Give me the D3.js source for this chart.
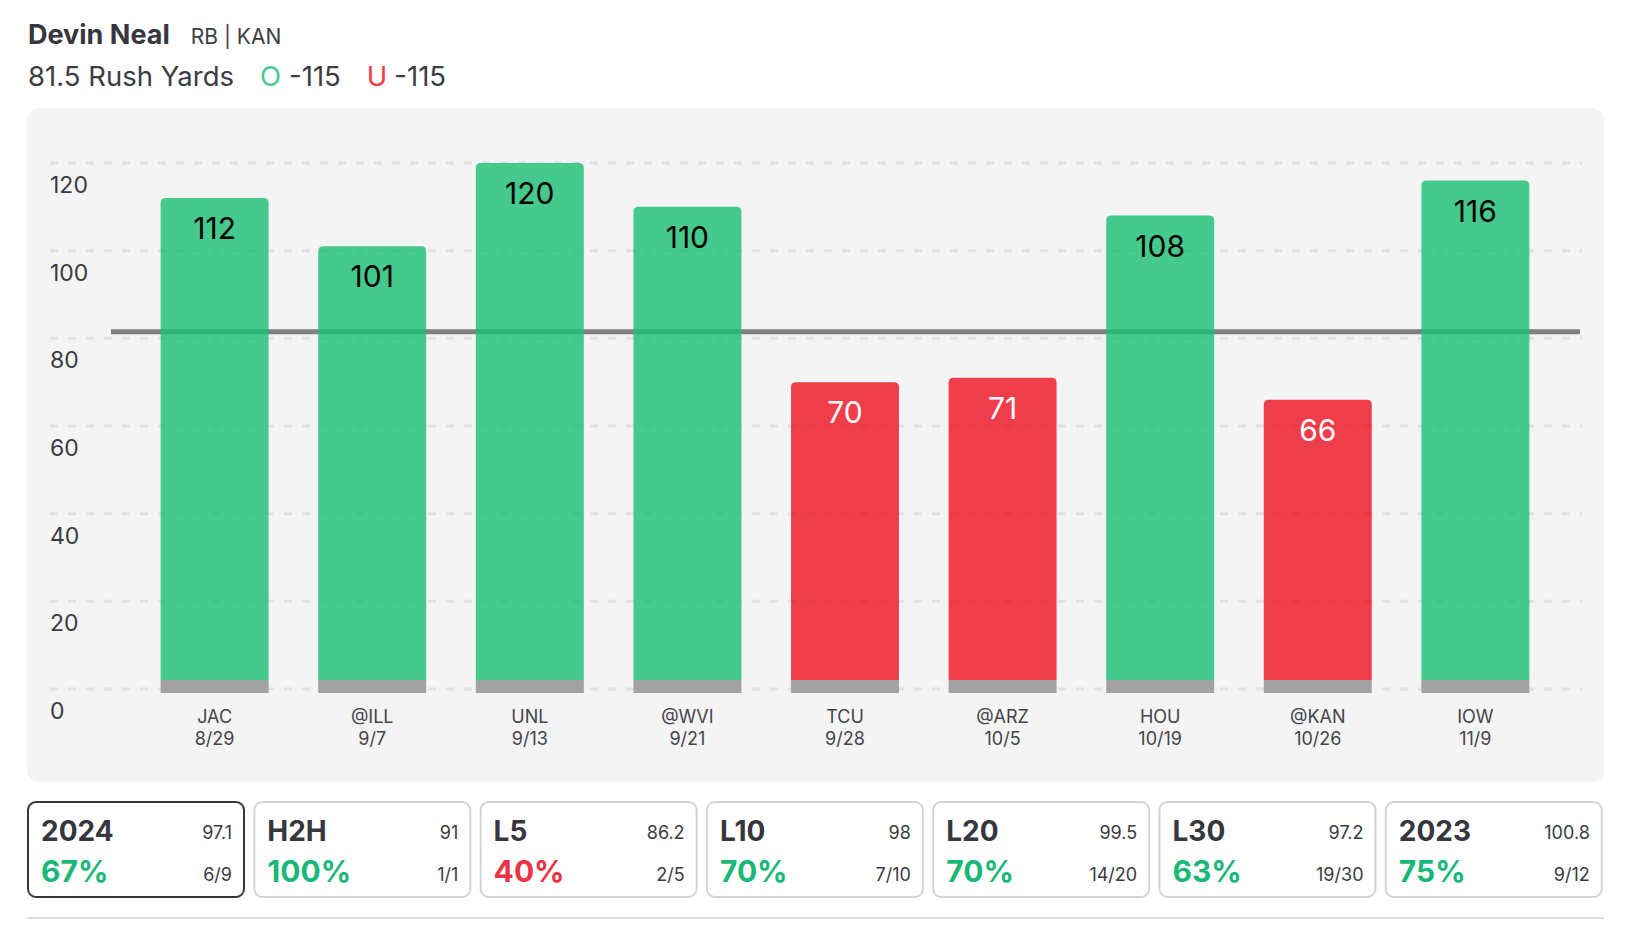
<!DOCTYPE html>
<html>
<head>
<script src="https://d3js.org/d3.v7.min.js"></script>
<style>
  body, html { margin: 0; background: #fff; }
  text { font-family: 'Inter', 'Noto Sans', sans-serif; }
</style>
</head>
<body>
<div id="chart"></div>
<script>
var opponents = ["JAC", "@ILL", "UNL", "@WVI", "TCU", "@ARZ", "HOU", "@KAN", "IOW"];
var dates = ["8/29", "9/7", "9/13", "9/21", "9/28", "10/5", "10/19", "10/26", "11/9"];
var yards = [112, 101, 120, 110, 70, 71, 108, 66, 116];
var propLine = 81.5;
var yTicks = [0, 20, 40, 60, 80, 100, 120];

var cardLabels = ["2024", "H2H", "L5", "L10", "L20", "L30", "2023"];
var cardAvgs = ["97.1", "91", "86.2", "98", "99.5", "97.2", "100.8"];
var cardPcts = [67, 100, 40, 70, 70, 63, 75];
var cardHits = ["6/9", "1/1", "2/5", "7/10", "14/20", "19/30", "9/12"];

var green = "#1cbf74", red = "#ee1424";
var W = 1628, H = 940;

var svg = d3.select("#chart").append("svg")
  .attr("width", W).attr("height", H);

// header
var t1 = svg.append("text").attr("x", 28).attr("y", 44).attr("fill", "#36363e");
t1.append("tspan").attr("font-size", 27).attr("font-weight", 700).text("Devin Neal");
t1.append("tspan").attr("dx", 21).attr("font-size", 21).attr("fill", "#3c3c44").text("RB | KAN");

var t2 = svg.append("text").attr("x", 28).attr("y", 86).attr("font-size", 27.5).attr("fill", "#3c3c44");
t2.append("tspan").text("81.5 Rush Yards");
t2.append("tspan").attr("dx", 26).attr("fill", "#45c98c").text("O");
t2.append("tspan").attr("dx", 8).text("-115");
t2.append("tspan").attr("dx", 26).attr("fill", "#ef3b48").text("U");
t2.append("tspan").attr("dx", 7).text("-115");

// panel
svg.append("rect")
  .attr("x", 27).attr("y", 108).attr("width", 1577).attr("height", 674)
  .attr("rx", 12).attr("fill", "#f4f4f4");

var x = d3.scaleBand().domain(opponents).range([111, 1579]).padding(0.315);
var y = d3.scaleLinear().domain([0, 120]).range([689, 163]);

// grid
svg.append("g").selectAll("line").data(yTicks).enter().append("line")
  .attr("x1", 50).attr("x2", 1582)
  .attr("y1", d => y(d)).attr("y2", d => y(d))
  .attr("stroke", "#e0e0e0").attr("stroke-width", 3)
  .attr("stroke-dasharray", "8,10");

svg.append("g").selectAll("text").data(yTicks).enter().append("text")
  .attr("x", 50).attr("y", d => y(d) + 30)
  .attr("font-size", 23).attr("fill", "#3a3a42")
  .text(d => d);

// prop line
svg.append("line")
  .attr("x1", 111).attr("x2", 1580)
  .attr("y1", y(propLine)).attr("y2", y(propLine))
  .attr("stroke", "#808080").attr("stroke-width", 5);

// bars
function barPath(x0, w, top, bottom, r) {
  return "M" + x0 + "," + bottom + "V" + (top + r) +
    "Q" + x0 + "," + top + " " + (x0 + r) + "," + top +
    "H" + (x0 + w - r) +
    "Q" + (x0 + w) + "," + top + " " + (x0 + w) + "," + (top + r) +
    "V" + bottom + "Z";
}

var bars = svg.append("g").selectAll("g").data(yards).enter().append("g");

bars.append("path")
  .attr("d", (d, i) => barPath(x(opponents[i]), x.bandwidth(), y(d), y(0) - 9, 5))
  .attr("fill", d => d > propLine ? green : red)
  .attr("fill-opacity", 0.81);

bars.append("rect")
  .attr("x", (d, i) => x(opponents[i]))
  .attr("y", y(0) - 9)
  .attr("width", x.bandwidth())
  .attr("height", 13)
  .attr("fill", "#a2a2a2");

bars.append("text")
  .attr("x", (d, i) => x(opponents[i]) + x.bandwidth() / 2)
  .attr("y", d => y(d) + 41)
  .attr("text-anchor", "middle")
  .attr("font-size", 30)
  .attr("fill", d => d > propLine ? "#000" : "#fff")
  .text(d => d);

bars.append("text")
  .attr("x", (d, i) => x(opponents[i]) + x.bandwidth() / 2)
  .attr("y", 723)
  .attr("text-anchor", "middle")
  .attr("font-size", 18)
  .attr("fill", "#44444c")
  .text((d, i) => opponents[i]);

bars.append("text")
  .attr("x", (d, i) => x(opponents[i]) + x.bandwidth() / 2)
  .attr("y", 745)
  .attr("text-anchor", "middle")
  .attr("font-size", 18)
  .attr("fill", "#44444c")
  .text((d, i) => dates[i]);

// stat cards
var cards = svg.append("g").selectAll("g").data(cardLabels).enter().append("g")
  .attr("transform", (d, i) => "translate(" + (27 + i * 226.3) + ",801)");

cards.append("rect")
  .attr("x", 1).attr("y", 1).attr("width", 216).attr("height", 95)
  .attr("rx", 8)
  .attr("fill", "#fff")
  .attr("stroke", (d, i) => i === 0 ? "#36363e" : "#d4d4d8")
  .attr("stroke-width", 2);

cards.append("text")
  .attr("x", 14).attr("y", 40)
  .attr("font-size", 28).attr("font-weight", 700).attr("fill", "#36363e")
  .text(d => d);

cards.append("text")
  .attr("x", 205).attr("y", 38)
  .attr("text-anchor", "end")
  .attr("font-size", 18).attr("fill", "#3a3a42")
  .text((d, i) => cardAvgs[i]);

cards.append("text")
  .attr("x", 14).attr("y", 81)
  .attr("font-size", 30).attr("font-weight", 700)
  .attr("fill", (d, i) => cardPcts[i] >= 50 ? "#1ab878" : "#ec3346")
  .text((d, i) => cardPcts[i] + "%");

cards.append("text")
  .attr("x", 205).attr("y", 80)
  .attr("text-anchor", "end")
  .attr("font-size", 18).attr("fill", "#3a3a42")
  .text((d, i) => cardHits[i]);

svg.append("line")
  .attr("x1", 27).attr("x2", 1604).attr("y1", 918).attr("y2", 918)
  .attr("stroke", "#dddde0").attr("stroke-width", 2);
</script>
</body>
</html>
